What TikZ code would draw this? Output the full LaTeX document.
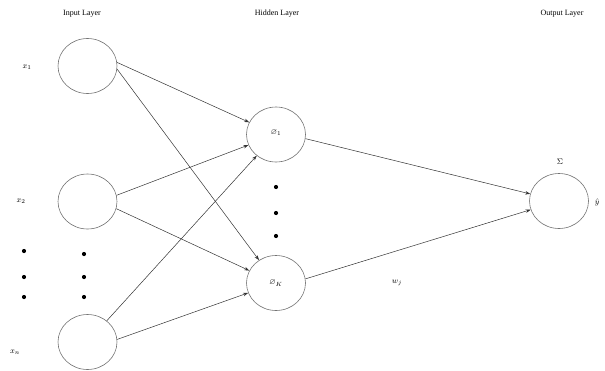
\documentclass[tikz,border=0pt]{standalone}
\usepackage{amssymb}
\usepackage{fontspec}
\setmainfont{Liberation Serif}
\usetikzlibrary{arrows.meta,shapes.geometric}
\begin{document}
\begin{tikzpicture}[x=1pt,y=-1pt,
  neuron/.style={draw=black!55,line width=0.6pt,ellipse,minimum width=59pt,minimum height=55pt,inner sep=0pt},
  lbl/.style={font=\fontsize{8}{10}\selectfont},
  conn/.style={draw=black!80,line width=0.5pt},
  arr/.style={conn,-{Stealth[length=5pt,width=3.5pt]}},
  bigdot/.style={circle,fill=black,inner sep=0pt,minimum size=4.2pt}]
\useasboundingbox (0,0) rectangle (605,370);
% titles
\node[lbl] (tin) at (82,14) {Input Layer};
\node[lbl] (thid) at (277,14) {Hidden Layer};
\node[lbl] (tout) at (562,14) {Output Layer};
% input neurons
\node[neuron] (i1) at (87.5,66) {};
\node[neuron] (i2) at (87.5,201.5) {};
\node[neuron] (in) at (87.5,342) {};
\node[lbl] (lx1) at (27,67) {$x_1$};
\node[lbl] (lx2) at (21,201) {$x_2$};
\node[lbl] (lxn) at (15,352) {$x_n$};
% input dots
\node[bigdot] (d1) at (24,251) {};
\node[bigdot] (d2) at (24,277) {};
\node[bigdot] (d3) at (24,297) {};
\node[bigdot] (d4) at (84,254) {};
\node[bigdot] (d5) at (84,277) {};
\node[bigdot] (d6) at (84,297) {};
% hidden neurons
\node[neuron] (h1) at (276,134.5) {};
\node[neuron] (hk) at (276,283) {};
\node[lbl] (lh1) at (276,133) {$\varnothing_1$};
\node[lbl] (lhk) at (276,283) {$\varnothing_K$};
\node[bigdot] (d7) at (276,187) {};
\node[bigdot] (d8) at (276,213) {};
\node[bigdot] (d9) at (276,236) {};
% output neuron
\node[neuron] (o) at (559,201) {};
\node[lbl] (lsig) at (560,162) {$\Sigma$};
\node[lbl] (lyh) at (597,202) {$\hat{y}$};
\node[lbl] (lw) at (397,283) {$w_j$};
% connections
\draw[arr] (i1.7) -- (h1);
\draw[arr] (i1.-6) -- (hk);
\draw[arr] (i2.12) -- (h1);
\draw[arr] (i2.-14) -- (hk);
\draw[arr] (in) -- (h1);
\draw[arr] (in.5) -- (hk);
\draw[arr] (h1.-8) -- (o);
\draw[arr] (hk.8) -- (o);
\end{tikzpicture}
\end{document}
